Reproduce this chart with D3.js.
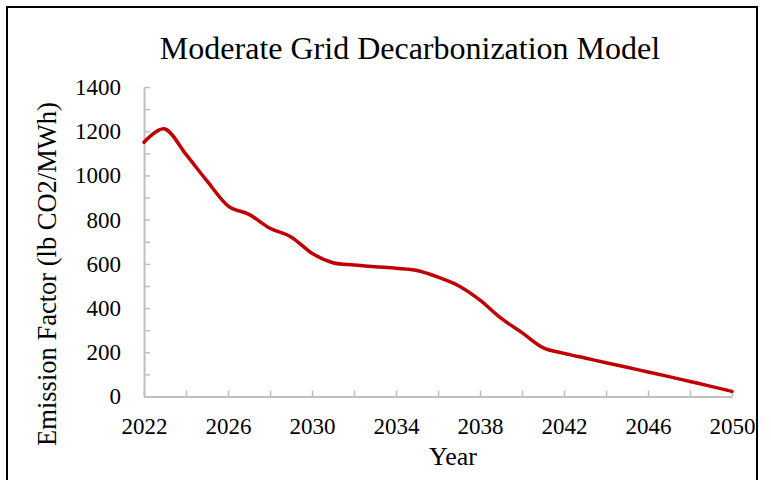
<!DOCTYPE html>
<html>
<head>
<meta charset="utf-8">
<script src="https://cdn.jsdelivr.net/npm/d3@7"></script>
<style>
  body { margin: 0; background: #fff; }
  svg text { font-family: "Liberation Serif", "Times New Roman", serif !important; }
  .axis path, .axis line { stroke: #bfbfbf; }
</style>
</head>
<body>
<svg width="771" height="480"></svg>
<script>
// emission factor by year
let years = [2022, 2023, 2024, 2025, 2026, 2027, 2028, 2029, 2030, 2031, 2032, 2033, 2034, 2035,
             2036, 2037, 2038, 2039, 2040, 2041, 2042, 2043, 2044, 2045, 2046, 2047, 2048, 2049, 2050];
let emission = [1150, 1210, 1095, 975, 862, 824, 761, 722, 648, 605, 595, 587, 580, 570,
                540, 500, 436, 354, 289, 221, 195, 174, 153, 132, 111, 90, 68, 46, 23];
let xTicks = d3.range(2022, 2051, 2);
let xLabels = d3.range(2022, 2051, 4);
let yTicks = d3.range(0, 1401, 100);

let svg = d3.select("svg");
let margin = { top: 87, right: 39, bottom: 83.5, left: 144 },
    width = +svg.attr("width") - margin.left - margin.right,
    height = +svg.attr("height") - margin.top - margin.bottom;

// outer chart frame
svg.append("rect")
    .attr("x", 7).attr("y", 7)
    .attr("width", 750).attr("height", 490)
    .attr("fill", "none")
    .attr("stroke", "#000")
    .attr("stroke-width", 2);

let x = d3.scaleLinear().domain([2022, 2050]).range([0, width]);
let y = d3.scaleLinear().domain([0, 1400]).range([height, 0]);

let g = svg.append("g")
    .attr("transform", "translate(" + margin.left + "," + margin.top + ")");

function styleAxis(a) {
    a.select(".domain").attr("stroke-width", 2);
    a.selectAll(".tick line").attr("stroke-width", 1.5);
    a.selectAll(".tick text")
        .attr("fill", "#000")
        .style("font-size", "23px");
}

g.append("g")
    .classed("axis axis--y", true)
    .call(d3.axisLeft(y)
        .tickValues(yTicks)
        .tickSizeInner(-6)
        .tickSizeOuter(0)
        .tickPadding(23)
        .tickFormat(d => d % 200 === 0 ? d : ""))
    .call(styleAxis);

g.append("g")
    .classed("axis axis--x", true)
    .attr("transform", "translate(0," + height + ")")
    .call(d3.axisBottom(x)
        .tickValues(xTicks)
        .tickSizeInner(-6)
        .tickSizeOuter(0)
        .tickPadding(21)
        .tickFormat(d => xLabels.includes(d) ? d : ""))
    .call(styleAxis);

let line = d3.line()
    .x((d, i) => x(years[i]))
    .y(d => y(d))
    .curve(d3.curveCatmullRom.alpha(0));

g.append("path")
    .datum(emission)
    .attr("fill", "none")
    .attr("stroke", "#c00000")
    .attr("stroke-width", 3.5)
    .attr("stroke-linejoin", "round")
    .attr("stroke-linecap", "round")
    .attr("d", line);

// title
svg.append("text")
    .attr("x", 410)
    .attr("y", 59)
    .attr("text-anchor", "middle")
    .style("font-size", "32px")
    .text("Moderate Grid Decarbonization Model");

// axis titles
svg.append("text")
    .attr("x", 453)
    .attr("y", 465)
    .attr("text-anchor", "middle")
    .style("font-size", "26px")
    .text("Year");

svg.append("text")
    .attr("transform", "translate(56,274) rotate(-90)")
    .attr("text-anchor", "middle")
    .style("font-size", "26.5px")
    .text("Emission Factor (lb CO2/MWh)");
</script>
</body>
</html>
